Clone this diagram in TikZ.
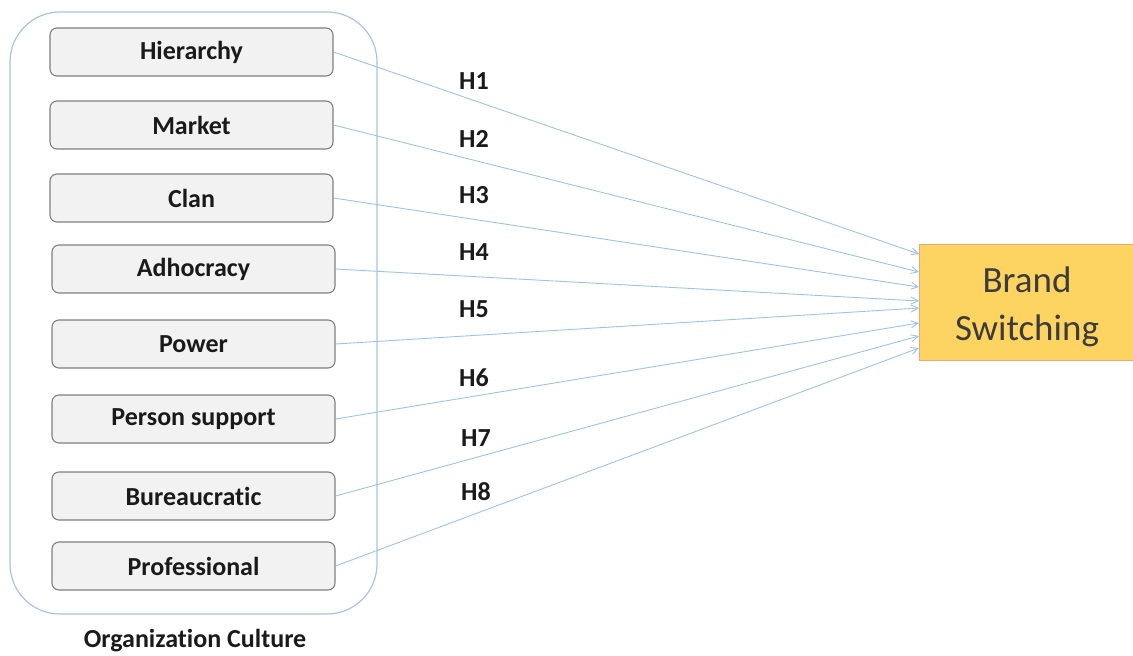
\documentclass[tikz,border=0pt]{standalone}
\usepackage{fontspec}
\setmainfont{Carlito}[Ligatures=NoCommon]
\usetikzlibrary{arrows.meta}
\definecolor{boxfill}{HTML}{F2F2F2}
\definecolor{boxline}{HTML}{7F7F7F}
\definecolor{linkblue}{HTML}{9DC3E6}
\definecolor{outerblue}{HTML}{A8C4DE}
\definecolor{brandfill}{HTML}{FDD462}
\definecolor{brandline}{HTML}{E3A885}
\definecolor{txt}{HTML}{1A1A1A}
\begin{document}
\begin{tikzpicture}[x=1pt,y=-1pt,
  cult/.style={draw=boxline, fill=boxfill, line width=1.1pt, rounded corners=7pt,
     minimum width=283pt, minimum height=48pt, inner sep=0pt,
     font=\fontsize{26}{30}\selectfont\bfseries, text=txt},
  hlab/.style={font=\fontsize{26}{30}\selectfont\bfseries, text=txt},
  link/.style={draw=linkblue, line width=0.9pt, -{Straight Barb[length=7pt,width=7pt,line width=0.9pt]}}
]
\useasboundingbox (0,0) rectangle (1133,656);
% outer group
\draw[outerblue, line width=1.2pt, rounded corners=50pt] (10,12) rectangle (377,614);
\node[hlab] (oc) at (195,641) {Organization Culture};
% culture boxes
\node[cult] (hier) at (191.5,52) {Hierarchy};
\node[cult] (mark) at (191.5,125) {Market};
\node[cult] (clan) at (191.5,198) {Clan};
\node[cult] (adho) at (193.5,269) {Adhocracy};
\node[cult] (powe) at (193.5,344) {Power};
\node[cult] (pers) at (193.5,419) {Person support};
\node[cult] (bure) at (193.5,496) {Bureaucratic};
\node[cult] (prof) at (193.5,566) {Professional};
% brand switching
\node[draw=brandline, fill=brandfill, line width=1pt, minimum width=216pt, minimum height=116pt,
  inner sep=0pt] (bs) at (1027,302) {};
\node[inner sep=0pt, align=center, font=\fontsize{37}{48}\selectfont, text=txt!85] (bst)
  at ([yshift=-5pt]bs.center) {Brand\\Switching};
% endpoints on brand box
\coordinate (e1) at (919,254);
\coordinate (e2) at (919,272);
\coordinate (e3) at (919,287);
\coordinate (e4) at (919,301);
\coordinate (e5) at (919,308);
\coordinate (e6) at (919,323);
\coordinate (e7) at (919,336);
\coordinate (e8) at (919,348);
\draw[link] (hier.east) -- (e1);
\draw[link] (mark.east) -- (e2);
\draw[link] (clan.east) -- (e3);
\draw[link] (adho.east) -- (e4);
\draw[link] (powe.east) -- (e5);
\draw[link] (pers.east) -- (e6);
\draw[link] (bure.east) -- (e7);
\draw[link] (prof.east) -- (e8);
% labels
\node[hlab] (h1) at (474,81) {H1};
\node[hlab] (h2) at (474,139) {H2};
\node[hlab] (h3) at (474,195) {H3};
\node[hlab] (h4) at (474,252) {H4};
\node[hlab] (h5) at (474,309) {H5};
\node[hlab] (h6) at (474,378) {H6};
\node[hlab] (h7) at (476,438) {H7};
\node[hlab] (h8) at (476,492) {H8};
\end{tikzpicture}
\end{document}
